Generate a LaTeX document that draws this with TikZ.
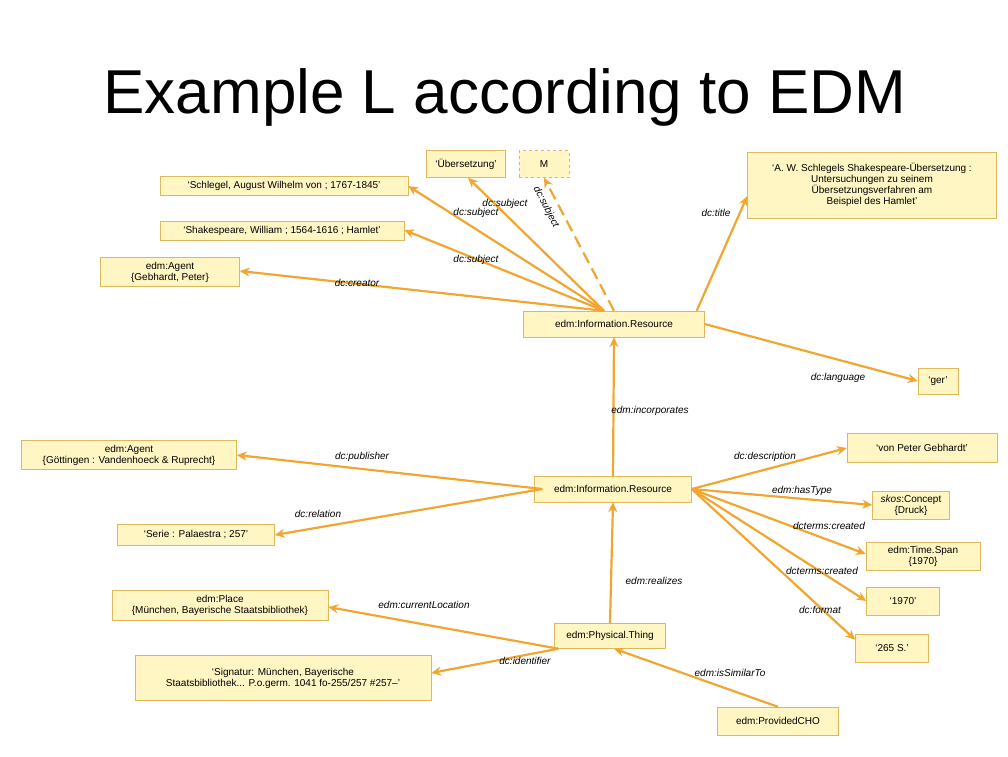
\documentclass[tikz,border=0pt]{standalone}
\usepackage{fontspec}
\setmainfont{Liberation Sans}
\usetikzlibrary{arrows.meta}
\definecolor{boxfill}{RGB}{255,246,196}
\definecolor{boxline}{RGB}{222,184,90}
\definecolor{link}{RGB}{240,166,48}
\begin{document}
\begin{tikzpicture}[x=1pt,y=-1pt,
    res/.style={draw=boxline,fill=boxfill,font=\fontsize{10}{11}\selectfont,align=center,inner sep=3pt},
    lbl/.style={font=\fontsize{10}{11}\selectfont\itshape},
    rel/.style={draw=link,line width=2.2pt,-{Stealth[length=10pt,width=9pt]}}]
    \useasboundingbox (0,0) rectangle (1008,756);
    % Title
    \node[font=\fontsize{62}{68}\selectfont] (title) at (505,97) {Example L according to EDM};

    % Top cluster
    \node[res,minimum width=79,minimum height=27] (ueber) at (466,164) {‘Übersetzung’};
    \node[res,dashed,minimum width=50,minimum height=27] (m) at (544,164) {M};
    \node[res,minimum width=249,minimum height=66] (titel) at (872,185) {‘A. W. Schlegels Shakespeare-Übersetzung :\\Untersuchungen zu seinem\\Übersetzungsverfahren am\\Beispiel des Hamlet’};
    \node[res,minimum width=248,minimum height=19,inner sep=1pt] (schlegel) at (284,186) {‘Schlegel, August Wilhelm von ; 1767-1845’};
    \node[res,minimum width=244,minimum height=19,inner sep=1pt] (shakes) at (282,231) {‘Shakespeare, William ; 1564-1616 ; Hamlet’};
    \node[res,minimum width=139,minimum height=29,inner sep=1pt] (gebhardt) at (170,272) {edm:Agent\\\{Gebhardt, Peter\}};
    \node[res,minimum width=181,minimum height=26] (ir1) at (614,324) {edm:Information.Resource};
    \node[res,minimum width=40,minimum height=26] (ger) at (938,381) {‘ger’};

    % Middle cluster
    \node[res,minimum width=215,minimum height=29,inner sep=1pt] (goett) at (129,455) {edm:Agent\\\{Göttingen : Vandenhoeck \& Ruprecht\}};
    \node[res,minimum width=157,minimum height=26] (ir2) at (613,489) {edm:Information.Resource};
    \node[res,minimum width=150,minimum height=29] (vonpg) at (922,448) {‘von Peter Gebhardt’};
    \node[res,minimum width=77,minimum height=28,inner sep=1pt] (concept) at (911,505) {\textit{skos}:Concept\\\{Druck\}};
    \node[res,minimum width=157,minimum height=21,inner sep=1pt] (serie) at (196,535) {‘Serie : Palaestra ; 257’};
    \node[res,minimum width=114,minimum height=28,inner sep=1pt] (timespan) at (923,556) {edm:Time.Span\\\{1970\}};
    \node[res,minimum width=73,minimum height=28] (jahr) at (903,601) {‘1970’};
    \node[res,minimum width=73,minimum height=28] (umfang) at (892,648) {‘265 S.’};

    % Bottom cluster
    \node[res,minimum width=216,minimum height=30,inner sep=1pt] (place) at (220,605) {edm:Place\\\{München, Bayerische Staatsbibliothek\}};
    \node[res,minimum width=111,minimum height=25] (phys) at (610,636) {edm:Physical.Thing};
    \node[res,minimum width=296,minimum height=45,inner sep=1pt] (signatur) at (283,678) {‘Signatur: München, Bayerische\\Staatsbibliothek... P.o.germ. 1041 fo-255/257 \#257--’};
    \node[res,minimum width=121,minimum height=28] (cho) at (778,721) {edm:ProvidedCHO};

    % Links from first resource
    \draw[rel] ([xshift=-10pt]ir1.north) -- ([xshift=2pt]ueber.south);
    \draw[rel] ([xshift=-10pt]ir1.north) -- (schlegel.east);
    \draw[rel] ([xshift=-10pt]ir1.north) -- ([yshift=1pt]shakes.east);
    \draw[rel,dashed,dash pattern=on 12pt off 6pt] (ir1.north) -- (m.south);
    \draw[rel] ([xshift=-10pt]ir1.north) -- ([yshift=1pt]gebhardt.east);
    \draw[rel] ([xshift=-8pt]ir1.north east) -- ([yshift=-11pt]titel.west);
    \draw[rel] (ir1.east) -- (ger.west);
    \node[lbl] (l1) at (505,204) {dc:subject};
    \node[lbl] (l2) at (476,213) {dc:subject};
    \node[lbl,rotate=-63] (l3) at (546,207) {dc:subject};
    \node[lbl] (l4) at (476,260) {dc:subject};
    \node[lbl] (l5) at (357,283) {dc:creator};
    \node[lbl] (l6) at (716,213) {dc:title};
    \node[lbl] (l7) at (838,378) {dc:language};

    % Links from second resource
    \draw[rel] (ir2.north) -- (ir1.south);
    \draw[rel] ([xshift=8pt]ir2.west) -- (goett.east);
    \draw[rel] ([xshift=8pt]ir2.west) -- (serie.east);
    \draw[rel] (ir2.east) -- (vonpg.west);
    \draw[rel] (ir2.east) -- (concept.west);
    \draw[rel] (ir2.east) -- ([yshift=2pt]timespan.west);
    \draw[rel] (ir2.east) -- (jahr.west);
    \draw[rel] (ir2.east) -- ([yshift=-6pt]umfang.north west);
    \node[lbl] (l8) at (650,411) {edm:incorporates};
    \node[lbl] (l9) at (362,457) {dc:publisher};
    \node[lbl] (l10) at (318,514) {dc:relation};
    \node[lbl] (l11) at (765,457) {dc:description};
    \node[lbl] (l12) at (802,491) {edm:hasType};
    \node[lbl] (l13) at (829,526) {dcterms:created};
    \node[lbl] (l14) at (822,571) {dcterms:created};
    \node[lbl] (l15) at (820,610) {dc:format};

    % Links from physical thing
    \draw[rel] (phys.north) -- (ir2.south);
    \draw[rel] ([xshift=4pt]phys.south west) -- ([yshift=-2pt]place.east);
    \draw[rel] ([xshift=4pt]phys.south west) -- ([yshift=5pt]signatur.east);
    \draw[rel] (cho.north) -- ([xshift=4pt]phys.south);
    \node[lbl] (l16) at (654,581) {edm:realizes};
    \node[lbl] (l17) at (424,605) {edm:currentLocation};
    \node[lbl] (l18) at (525,661) {dc:identifier};
    \node[lbl] (l19) at (730,673) {edm:isSimilarTo};
\end{tikzpicture}
\end{document}
